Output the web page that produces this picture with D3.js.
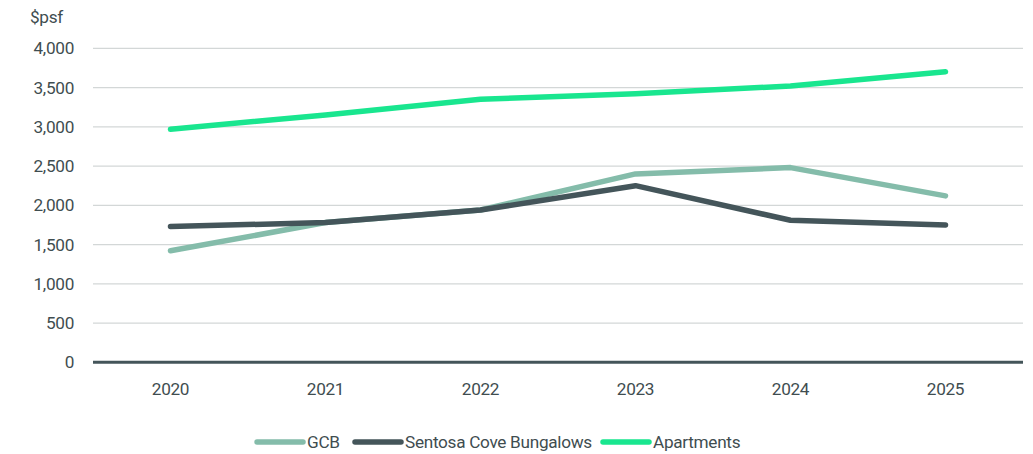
<!DOCTYPE html>
<html><head><meta charset="utf-8">
<script src="https://cdn.jsdelivr.net/npm/d3@7"></script>
<style>body{margin:0;background:#fff}svg{display:block}</style>
</head><body><svg id="c" width="1033" height="454"></svg>
<script>
const years = ["2020","2021","2022","2023","2024","2025"];
const gcb = [1420,1780,1940,2400,2480,2120];
const sentosa = [1730,1780,1940,2250,1810,1750];
const apartments = [2970,3150,3350,3420,3520,3700];
const yTicks = [0,500,1000,1500,2000,2500,3000,3500,4000];
const seriesNames = ["GCB","Sentosa Cove Bungalows","Apartments"];
const colors = ["#84bcaa","#44555a","#19e68f"];

const svg = d3.select("#c");
const font = "Roboto, 'Noto Sans', sans-serif";
const fs = 17.2;
const ls = "-0.3px";
const textCol = "#3f4d50";
const x = d3.scaleBand().domain(years).range([93,1023]);
const y = d3.scaleLinear().domain([0,4000]).range([362.3,48.3]);

const g = svg.append("g");
yTicks.forEach(t=>{
  if(t===0) return;
  g.append("line").attr("x1",93).attr("x2",1023).attr("y1",y(t)).attr("y2",y(t))
   .attr("stroke","#d3d7d7").attr("stroke-width",1.3);
});
g.selectAll("text.yt").data(yTicks).enter().append("text")
 .attr("x",74).attr("y",d=>y(d)).attr("dy","0.35em").attr("text-anchor","end")
 .attr("font-family",font).attr("font-size",fs).attr("letter-spacing",ls).attr("fill",textCol).text(d=>d3.format(",")(d));
svg.append("text").attr("x",30).attr("y",23).attr("font-family",font).attr("font-size",fs)
 .attr("letter-spacing",ls).attr("fill",textCol).text("$psf");

g.selectAll("text.xt").data(years).enter().append("text")
 .attr("x",d=>x(d)+x.bandwidth()/2).attr("y",389).attr("dy","0.35em").attr("text-anchor","middle")
 .attr("font-family",font).attr("font-size",fs).attr("letter-spacing",ls).attr("fill",textCol).text(d=>d);

const data=[gcb,sentosa,apartments];
const line = d3.line().x((d,i)=>x(years[i])+x.bandwidth()/2).y(d=>y(d));
data.forEach((s,k)=>{
  g.append("path").attr("d",line(s)).attr("fill","none").attr("stroke",colors[k])
   .attr("stroke-width",5.5).attr("stroke-linecap","round").attr("stroke-linejoin","round");
});
g.append("line").attr("x1",93).attr("x2",1023).attr("y1",y(0)).attr("y2",y(0))
 .attr("stroke","#44555a").attr("stroke-width",3);

const legX=[257,355,603];
seriesNames.forEach((n,k)=>{
  svg.append("line").attr("x1",legX[k]).attr("x2",legX[k]+46).attr("y1",442).attr("y2",442)
   .attr("stroke",colors[k]).attr("stroke-width",5.5).attr("stroke-linecap","round");
  svg.append("text").attr("x",legX[k]+50).attr("y",442).attr("dy","0.35em")
   .attr("font-family",font).attr("font-size",fs).attr("letter-spacing",ls).attr("fill",textCol).text(n);
});
</script></body></html>
